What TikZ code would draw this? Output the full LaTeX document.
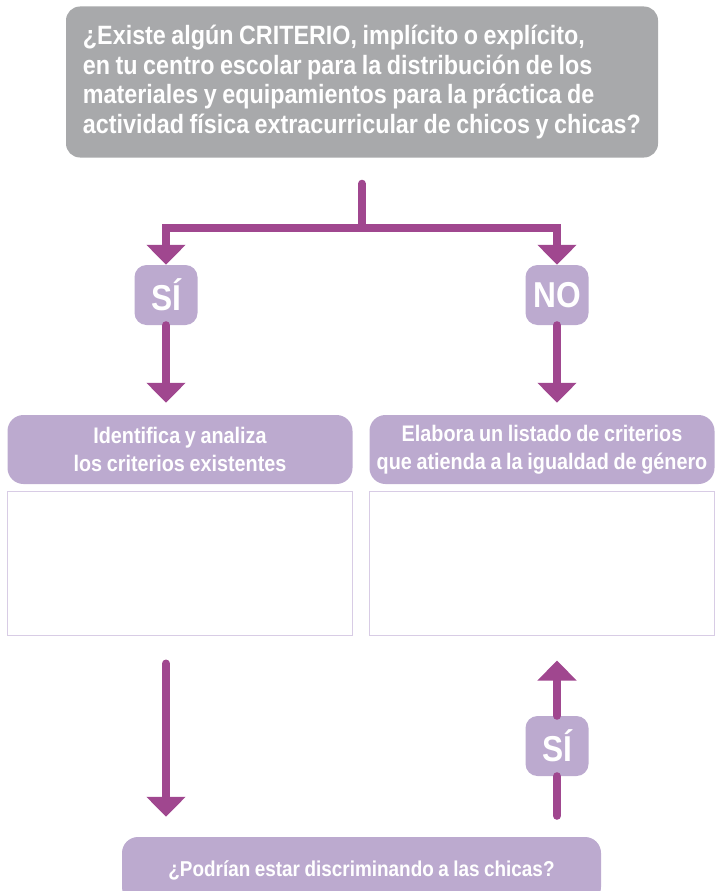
\documentclass[tikz,border=0pt]{standalone}
\usepackage{fontspec}
\setmainfont{Liberation Sans}[FakeStretch=0.88, WordSpace=0.85]
\usetikzlibrary{positioning, arrows.meta}

\definecolor{flowpurple}{HTML}{A0478F}
\definecolor{lilac}{HTML}{BCAACF}
\definecolor{lilacline}{HTML}{D8CCE5}
\definecolor{qgray}{HTML}{A8A9AB}

\begin{document}
\begin{tikzpicture}[x=1pt, y=-1pt,
    every node/.style={text=white, inner sep=0pt},
    question/.style={rounded corners=14pt, fill=qgray, minimum width=592pt, minimum height=151pt, align=left, font=\fontsize{26.5}{29.7}\selectfont\bfseries},
    answer/.style={rounded corners=12pt, fill=lilac, minimum width=63pt, minimum height=60pt, font=\fontsize{36}{36}\selectfont\bfseries},
    header/.style={rounded corners=16pt, fill=lilac, minimum width=345pt, minimum height=69pt, align=center, font=\fontsize{22.5}{28}\selectfont\bfseries},
    notes/.style={draw=lilacline, line width=1pt, fill=white, minimum width=345pt, minimum height=144pt},
    flowline/.style={draw=flowpurple, line width=8pt, line cap=round},
    flow/.style={flowline, -{Triangle[width=38pt, length=20pt]}}]
    \path[use as bounding box] (0,0) rectangle (715,891);
    \clip (0,0) rectangle (715,891);

    % Question
    \node[question] (q) at (362,82) {¿Existe algún CRITERIO, implícito o explícito,\\ en tu centro escolar para la distribución de los\\ materiales y equipamientos para la práctica de\\ actividad física extracurricular de chicos y chicas?};

    % Answers
    \node[answer] (si) at (166,295) {SÍ};
    \node[answer] (no) at (557,295) {NO};

    % Tasks
    \node[header] (idhead) at (180,449.5) {Identifica y analiza\\ los criterios existentes};
    \node[header] (elhead) at (542,449.5) {Elabora un listado de criterios\\ que atienda a la igualdad de género};
    \node[notes] (idbox) at (180,563) {};
    \node[notes] (elbox) at (542,563) {};

    \node[header, minimum width=479pt, minimum height=66pt, font=\fontsize{21.5}{28}\selectfont\bfseries] (podr) at (361.5,870) {¿Podrían estar discriminando a las chicas?};
    \node[answer] (sib) at (557,746) {SÍ};

    % Connectors
    \coordinate (split) at ([yshift=-70pt]q.south);
    \draw[flow] ([yshift=-26pt]q.south) -- (split) -| (si);
    \draw[flow] (split) -| (no);
    \draw[flow, shorten >=12pt] (si) -- (si |- idhead.north);
    \draw[flow, shorten >=12pt] (no) -- (no |- elhead.north);
    \draw[flow, shorten <=28pt, shorten >=20pt] (si |- idbox.south) -- (si |- podr.north);
    \draw[flowline, shorten <=21pt] (sib |- podr.north) -- (sib.south);
    \draw[flow, shorten >=25pt] (sib.north) -- (sib |- elbox.south);
\end{tikzpicture}
\end{document}
